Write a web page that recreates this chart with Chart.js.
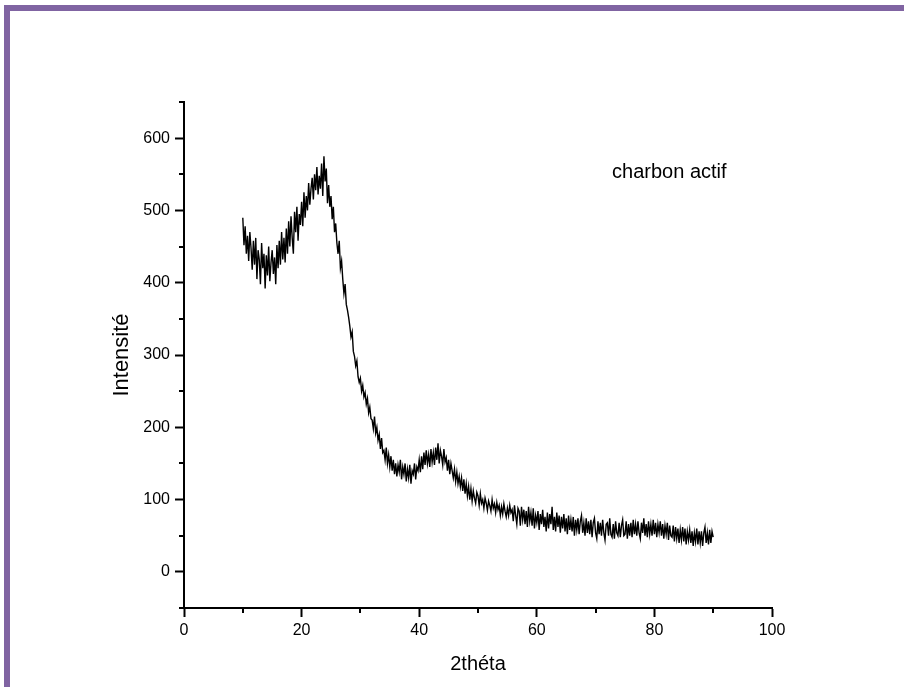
<!DOCTYPE html>
<html>
<head>
<meta charset="utf-8">
<script src="https://cdn.jsdelivr.net/npm/chart.js@4.4.1/dist/chart.umd.min.js"></script>
<style>
  html, body { margin: 0; padding: 0; background: #fff; }
  #wrap { position: relative; width: 904px; height: 687px; overflow: hidden; }
  #frame { position: absolute; left: 4px; top: 5px; right: 0; bottom: 0;
           border-left: 6px solid #8064a2; border-top: 6px solid #8064a2; }
  #xrd { position: absolute; left: 0; top: 0; }
</style>
</head>
<body>
<div id="wrap">
  <div id="frame"></div>
  <canvas id="xrd" width="904" height="687"></canvas>
</div>
<script>
// XRD pattern of activated carbon
const thetaStart = 10;
const thetaStep = 0.2;
const intensity = [
  490, 452, 478, 440, 465,  430, 470, 448, 418, 458,  // 10-11.8
  425, 462, 405, 445, 432,  398, 455, 420, 440, 392,  // 12-13.8
  438, 410, 450, 402, 428,  445, 412, 435, 398, 452,  // 14-15.8
  420, 458, 425, 470, 432,  462, 428, 475, 440, 485,  // 16-17.8
  450, 492, 462, 440, 498,  470, 505, 458, 495, 480,  // 18-19.8
  512, 478, 525, 490, 520,  500, 538, 508, 530, 545,  // 20-21.8
  515, 550, 528, 560, 522,  548, 530, 565, 520, 575,  // 22-23.8
  540, 558, 510, 535, 505,  520, 488, 505, 470, 482,  // 24-25.8
  455, 440, 458, 420, 430,  405, 385, 398, 370, 362,  // 26-27.8
  352, 340, 325, 332, 305,  298, 285, 292, 270, 262,  // 28-29.8
  268, 250, 258, 242, 248,  232, 240, 220, 228, 212,  // 30-31.8
  210, 198, 215, 192, 200,  182, 190, 170, 185, 165,  // 32-33.8
  168, 155, 172, 150, 162,  145, 160, 140, 155, 135,  // 34-35.8
  150, 132, 148, 138, 155,  128, 145, 135, 150, 125,  // 36-37.8
  142, 130, 148, 122, 140,  135, 150, 128, 145, 140,  // 38-39.8
  155, 138, 160, 142, 165,  148, 168, 150, 162, 145,  // 40-41.8
  170, 152, 165, 148, 172,  155, 178, 150, 168, 160,  // 42-43.8
  148, 170, 152, 158, 140,  155, 135, 150, 140, 130,  // 44-45.8
  142, 125, 138, 122, 132,  118, 130, 112, 128, 108,  // 46-47.8
  122, 105, 118, 100, 115,  98, 112, 102, 95, 110,    // 48-49.8
  105, 92, 108, 95, 100,    88, 102, 95, 85, 98,      // 50-51.8
  92, 84, 100, 88, 94,      82, 96, 86, 92, 78,       // 52-53.8
  90, 80, 94, 84, 76,       88, 78, 92, 82, 86,       // 54-55.8
  70, 92, 78, 66, 88,       84, 64, 90, 72, 86,       // 56-57.8
  66, 84, 62, 90, 70,       82, 64, 88, 60, 78,       // 58-59.8
  68, 84, 58, 80, 66,       86, 62, 76, 56, 82,       // 60-61.8
  60, 80, 66, 90, 58,       76, 56, 82, 62, 78,       // 62-63.8
  54, 76, 60, 80, 56,       74, 52, 78, 58, 72,       // 64-65.8
  56, 76, 50, 72, 58,       74, 52, 70, 78, 54,       // 66-67.8
  68, 50, 74, 54, 70,       52, 72, 48, 68, 74,       // 68-69.8
  54, 46, 70, 52, 68,       50, 72, 54, 44, 66,       // 70-71.8
  68, 50, 74, 52, 48,       66, 46, 70, 54, 50,       // 72-73.8
  68, 48, 64, 72, 50,       52, 70, 46, 66, 50,       // 74-75.8
  68, 48, 72, 52, 66,       50, 70, 54, 46, 68,       // 76-77.8
  54, 74, 50, 66, 48,       70, 52, 66, 50, 72,       // 78-79.8
  52, 68, 48, 66, 54,       70, 50, 66, 46, 64,       // 80-81.8
  52, 68, 44, 64, 50,       48, 64, 42, 62, 46,       // 82-83.8
  60, 40, 58, 44, 62,       42, 60, 38, 56, 44,       // 84-85.8
  58, 40, 56, 36, 54,       42, 60, 38, 56, 40,       // 86-87.8
  56, 36, 54, 62, 40,       54, 38, 58, 40, 56,       // 88-89.8
  48                                                   // 90
];

const xTicks = [0, 20, 40, 60, 80, 100];
const yTicks = [0, 100, 200, 300, 400, 500, 600];
const sampleLabel = 'charbon actif';

const points = intensity.map((v, i) => ({ x: thetaStart + i * thetaStep, y: v }));

const FONT = "'Liberation Sans', Arial, sans-serif";

// short minor ticks between the labelled ones, plus the sample name
const minorTicks = {
    id: 'minorTicks',
    afterDraw(chart) {
        const ctx = chart.ctx;
        const xs = chart.scales.x, ys = chart.scales.y;
        ctx.save();
        ctx.strokeStyle = '#000';
        ctx.lineWidth = 2;
        ys.ticks.forEach(t => {
            if (yTicks.includes(t.value)) return;
            const py = Math.round(ys.getPixelForValue(t.value));
            ctx.beginPath();
            ctx.moveTo(ys.right, py);
            ctx.lineTo(ys.right - 5, py);
            ctx.stroke();
        });
        xs.ticks.forEach(t => {
            if (xTicks.includes(t.value)) return;
            const px = Math.round(xs.getPixelForValue(t.value));
            ctx.beginPath();
            ctx.moveTo(px, xs.top);
            ctx.lineTo(px, xs.top + 5);
            ctx.stroke();
        });
        ctx.fillStyle = '#000';
        ctx.font = '20px ' + FONT;
        ctx.textBaseline = 'middle';
        ctx.fillText(sampleLabel, xs.getPixelForValue(72.8), ys.getPixelForValue(553));
        ctx.restore();
    }
};

new Chart(document.getElementById('xrd'), {
    type: 'scatter',
    data: {
        datasets: [{
            data: points,
            showLine: true,
            borderColor: '#000',
            borderWidth: 1.4,
            pointRadius: 0,
            tension: 0
        }]
    },
    options: {
        responsive: false,
        animation: false,
        layout: { padding: { left: 0, top: 102, right: 132, bottom: 0 } },
        plugins: { legend: { display: false }, tooltip: { enabled: false } },
        scales: {
            x: {
                type: 'linear',
                min: 0, max: 100,
                afterFit: s => { s.height = 79; },
                border: { color: '#000', width: 2 },
                grid: {
                    drawOnChartArea: false,
                    tickLength: 9,
                    tickWidth: 2,
                    tickColor: c => xTicks.includes(c.tick.value) ? '#000' : 'rgba(0,0,0,0)'
                },
                ticks: {
                    stepSize: 10,
                    padding: 4,
                    color: '#000',
                    font: { family: FONT, size: 16 },
                    maxRotation: 0,
                    autoSkip: false,
                    callback: v => xTicks.includes(v) ? v : ''
                },
                title: {
                    display: true,
                    text: '2théta',
                    color: '#000',
                    font: { family: FONT, size: 20 },
                    padding: { top: 0, bottom: 11 }
                }
            },
            y: {
                type: 'linear',
                min: -50, max: 650,
                afterFit: s => { s.width = 184; },
                border: { color: '#000', width: 2 },
                grid: {
                    drawOnChartArea: false,
                    tickLength: 9,
                    tickWidth: 2,
                    tickColor: c => yTicks.includes(c.tick.value) ? '#000' : 'rgba(0,0,0,0)'
                },
                ticks: {
                    stepSize: 50,
                    padding: 5,
                    color: '#000',
                    font: { family: FONT, size: 16 },
                    autoSkip: false,
                    callback: v => yTicks.includes(v) ? v : ''
                },
                title: {
                    display: true,
                    text: 'Intensité',
                    color: '#000',
                    font: { family: FONT, size: 22 },
                    padding: { top: 109, bottom: 0 }
                }
            }
        }
    },
    plugins: [minorTicks]
});
</script>
</body>
</html>
